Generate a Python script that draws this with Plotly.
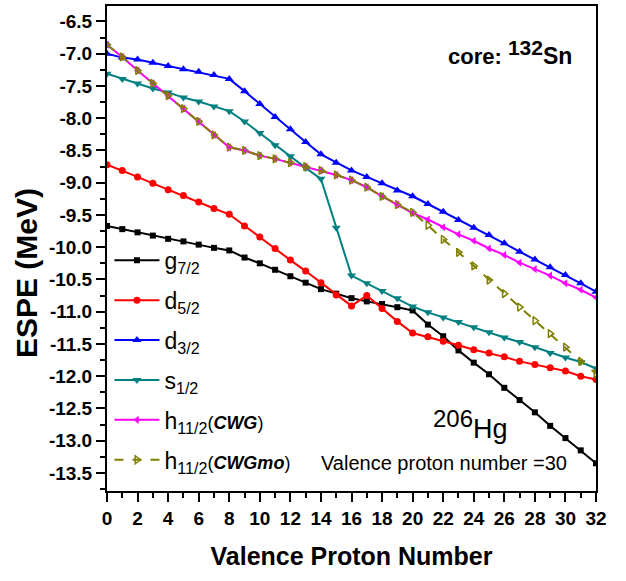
import plotly.graph_objects as go

n = list(range(33))

g72 = [-9.67, -9.72, -9.77, -9.82, -9.87, -9.91, -9.96, -10.01, -10.05, -10.16, -10.25,
       -10.35, -10.45, -10.55, -10.65, -10.72, -10.79, -10.84, -10.88, -10.93, -10.98,
       -11.20, -11.38, -11.60, -11.79, -11.97, -12.18, -12.37, -12.56, -12.77, -12.96,
       -13.15, -13.35]
d52 = [-8.72, -8.81, -8.91, -9.01, -9.11, -9.20, -9.30, -9.40, -9.49, -9.67, -9.84,
       -10.02, -10.20, -10.37, -10.55, -10.74, -10.91, -10.75, -10.95, -11.15, -11.33,
       -11.39, -11.46, -11.52, -11.59, -11.64, -11.70, -11.77, -11.82, -11.87, -11.92,
       -12.00, -12.05]
d32 = [-7.00, -7.06, -7.09, -7.14, -7.19, -7.24, -7.28, -7.33, -7.39, -7.58, -7.78,
       -7.98, -8.17, -8.37, -8.56, -8.69, -8.81, -8.91, -9.01, -9.12, -9.21, -9.33,
       -9.45, -9.58, -9.70, -9.81, -9.94, -10.07, -10.19, -10.31, -10.43, -10.56, -10.69]
s12 = [-7.31, -7.39, -7.46, -7.54, -7.60, -7.68, -7.74, -7.82, -7.89, -8.05, -8.23,
       -8.42, -8.59, -8.77, -8.94, -9.70, -10.44, -10.56, -10.68, -10.79, -10.92, -11.01,
       -11.09, -11.16, -11.24, -11.32, -11.40, -11.47, -11.55, -11.64, -11.71, -11.78,
       -11.88]
h112_cwg = [-6.86, -7.05, -7.26, -7.46, -7.65, -7.85, -8.05, -8.26, -8.45, -8.50, -8.58,
            -8.63, -8.69, -8.75, -8.81, -8.88, -8.96, -9.07, -9.21, -9.34, -9.47, -9.57,
            -9.69, -9.80, -9.90, -10.02, -10.12, -10.24, -10.34, -10.44, -10.56, -10.66,
            -10.78]
h112_cwgmo = [-6.86, -7.05, -7.26, -7.46, -7.65, -7.85, -8.05, -8.26, -8.45, -8.50, -8.58,
              -8.63, -8.69, -8.75, -8.81, -8.88, -8.96, -9.07, -9.21, -9.34, -9.46, -9.66,
              -9.88, -10.08, -10.29, -10.51, -10.72, -10.93, -11.14, -11.34, -11.55, -11.77,
              -11.96]

x_ticks = list(range(0, 33, 2))
y_ticks = [-6.5 - 0.5 * i for i in range(15)]
y_ticklabels = [f"{v:.1f}" for v in y_ticks]

FONT = "Liberation Sans, Arial, sans-serif"
XR = [0, 32]
YR = [-13.78, -6.26]

series = [
    ("g<sub>7/2</sub>", g72, "black", "square", 6, "solid"),
    ("d<sub>5/2</sub>", d52, "#ff0000", "circle", 7, "solid"),
    ("d<sub>3/2</sub>", d32, "#0000ff", "triangle-up", 8, "solid"),
    ("s<sub>1/2</sub>", s12, "#008080", "triangle-down", 8, "solid"),
    ("h<sub>11/2</sub><span style='font-size:18px'>(<b><i>CWG</i></b>)</span>",
     h112_cwg, "#ff00ff", "triangle-left", 7, "solid"),
    ("h<sub>11/2</sub><span style='font-size:18px'>(<b><i>CWGmo</i></b>)</span>",
     h112_cwgmo, "#808000", "triangle-right-open", 7, "dash"),
]

fig = go.Figure()
for i, (name, ys, col, sym, size, dash) in enumerate(series):
    fig.add_trace(go.Scatter(
        x=n, y=ys, name=name, mode="lines+markers", legendgroup=f"g{i}",
        line=dict(color=col, width=2, dash=dash),
        marker=dict(symbol=sym, size=size, color=col,
                    line=dict(color=col, width=1.5 if "open" in sym else 0)),
    ))

fig.update_layout(
    width=626, height=581,
    margin=dict(l=107, r=30, t=4, b=90),
    paper_bgcolor="white", plot_bgcolor="white",
    font=dict(family=FONT, color="black"),
    showlegend=True,
    legend=dict(
        x=0.005, y=0.52, xanchor="left", yanchor="top",
        bgcolor="rgba(0,0,0,0)", font=dict(size=23, family=FONT),
        tracegroupgap=7, traceorder="grouped", itemwidth=45,
    ),
    xaxis=dict(
        range=XR, tickmode="array", tickvals=x_ticks, ticktext=[str(v) for v in x_ticks],
        ticks="outside", ticklen=9, tickwidth=2, tickcolor="black",
        showline=True, linewidth=2, linecolor="black", mirror=True,
        showgrid=False, zeroline=False,
        minor=dict(dtick=1, ticks="outside", ticklen=5, tickwidth=2, tickcolor="black", showgrid=False),
        tickfont=dict(size=19, family=FONT, weight="bold"),
        title=dict(text="Valence Proton Number", font=dict(size=25, family=FONT, weight="bold"), standoff=20),
    ),
    yaxis=dict(
        range=YR, tickmode="array", tickvals=y_ticks, ticktext=y_ticklabels,
        ticks="outside", ticklen=9, tickwidth=2, tickcolor="black",
        showline=True, linewidth=2, linecolor="black", mirror=True,
        showgrid=False, zeroline=False,
        minor=dict(dtick=0.25, tick0=-6.5, ticks="outside", ticklen=5, tickwidth=2, tickcolor="black", showgrid=False),
        tickfont=dict(size=19, family=FONT, weight="bold"),
    ),
    xaxis2=dict(
        range=XR, overlaying="x", side="top", anchor="y", tickmode="array", tickvals=x_ticks,
        showticklabels=False, ticks="inside", ticklen=9, tickwidth=2, tickcolor="black",
        showline=False, showgrid=False, zeroline=False,
        minor=dict(dtick=1, ticks="inside", ticklen=5, tickwidth=2, tickcolor="black", showgrid=False),
    ),
    yaxis2=dict(
        range=YR, overlaying="y", side="right", anchor="x", tickmode="array", tickvals=y_ticks,
        showticklabels=False, ticks="inside", ticklen=9, tickwidth=2, tickcolor="black",
        showline=False, showgrid=False, zeroline=False,
        minor=dict(dtick=0.25, tick0=-6.5, ticks="inside", ticklen=5, tickwidth=2, tickcolor="black", showgrid=False),
    ),
    annotations=[
        dict(text="ESPE (MeV)", textangle=-90,
             xref="paper", yref="paper", x=-0.165, y=0.45, xanchor="center", yanchor="middle",
             showarrow=False, font=dict(size=30, family=FONT, weight="bold")),
        dict(text="core: <sup><span style='font-size:21px'>132</span></sup><span style='font-size:23px'>Sn</span>",
             xref="paper", yref="paper", x=0.825, y=0.905, xanchor="center", yanchor="middle",
             showarrow=False, font=dict(size=22, family=FONT, weight="bold")),
        dict(text="<sup><span style='font-size:24px'>206</span></sup>Hg",
             xref="paper", yref="paper", x=0.744, y=0.138, xanchor="center", yanchor="middle",
             showarrow=False, font=dict(size=27, family=FONT)),
        dict(text="Valence proton number =30",
             xref="paper", yref="paper", x=0.945, y=0.058, xanchor="right", yanchor="middle",
             showarrow=False, font=dict(size=20, family=FONT)),
    ],
)

fig.write_html("out.html")
